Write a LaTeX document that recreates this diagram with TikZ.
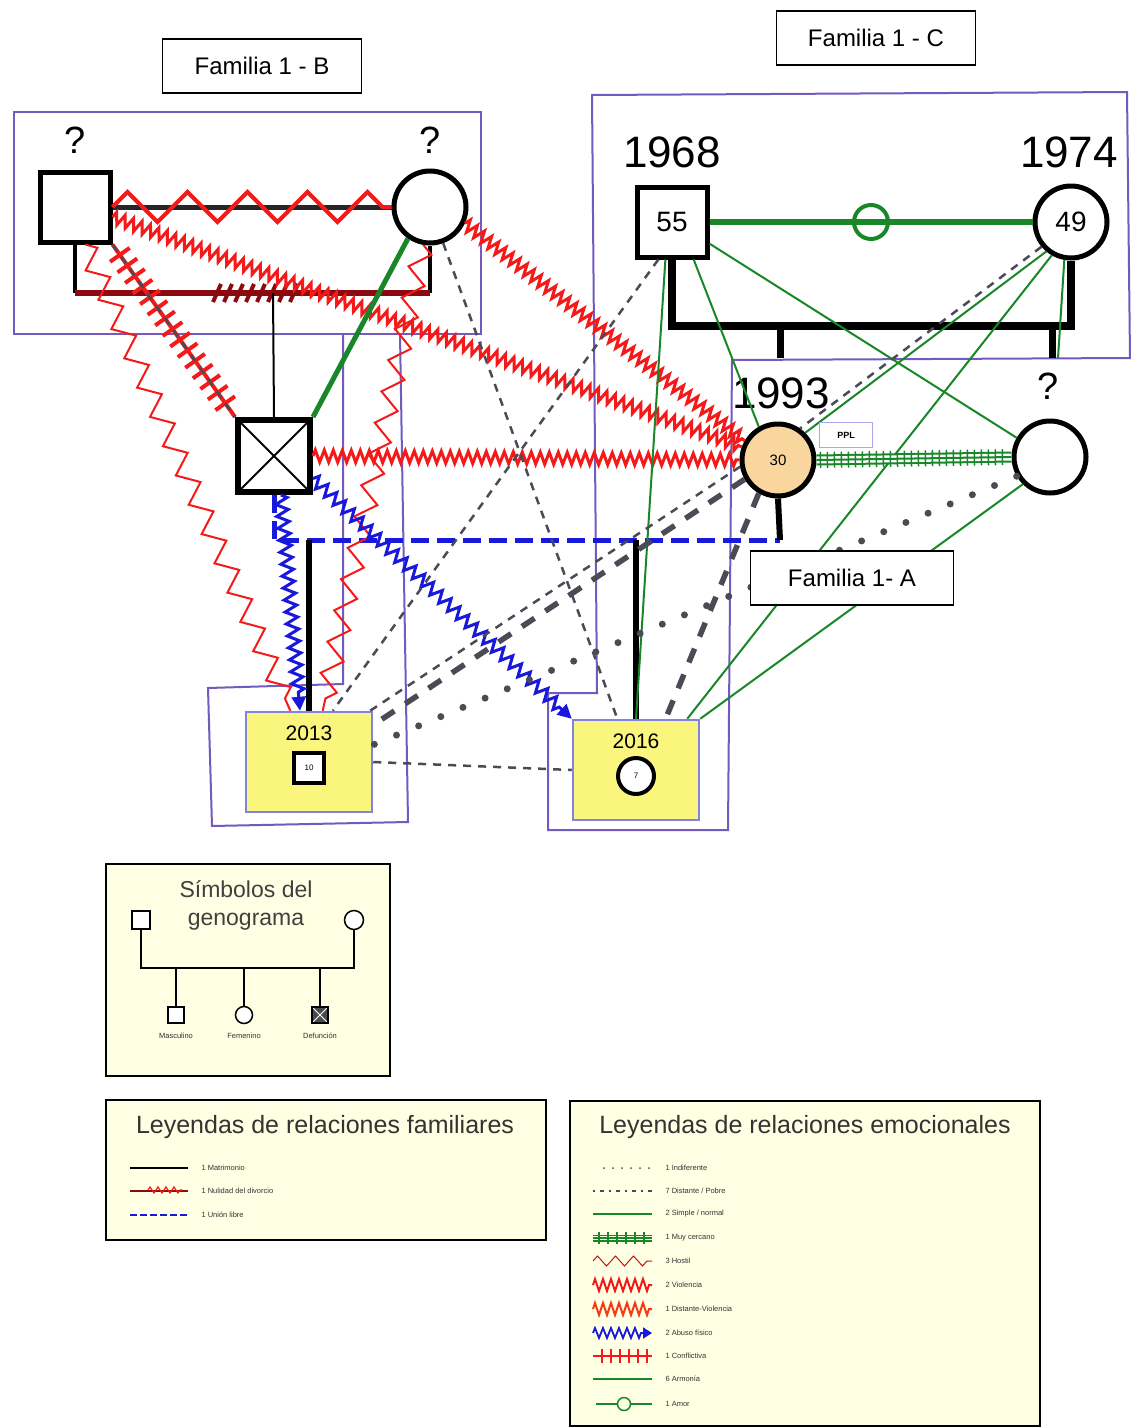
\documentclass[tikz,border=0pt]{standalone}
\usepackage{fontspec}
\setmainfont{Liberation Sans}
\usetikzlibrary{decorations.pathmorphing,decorations.markings,arrows.meta}
\definecolor{rojo}{RGB}{245,25,25}
\definecolor{vino}{RGB}{140,10,15}
\definecolor{verde}{RGB}{25,135,40}
\definecolor{azul}{RGB}{25,25,220}
\definecolor{gris}{RGB}{75,75,85}
\definecolor{lila}{RGB}{115,90,190}
\definecolor{borde}{RGB}{130,130,225}
\definecolor{amarillo}{RGB}{250,245,125}
\definecolor{crema}{RGB}{255,255,228}
\definecolor{piel}{RGB}{248,214,158}
\newcommand{\tam}[1]{\fontsize{#1}{#1}\selectfont}
\begin{document}
\begin{tikzpicture}[x=1pt,y=-1pt,
  varon/.style={draw,line width=5,minimum size=70,inner sep=0,fill=white,font=\tam{28}},
  mujer/.style={draw,circle,line width=5,minimum size=72,inner sep=0,fill=white,font=\tam{28}},
  etiqueta/.style={draw,line width=1.5,fill=white,minimum width=199,minimum height=54,font=\tam{24}},
  leyenda/.style={draw,line width=2,fill=crema},
  marco/.style={draw=lila,line width=2},
  hijo/.style={draw=borde,line width=2.5,fill=amarillo,minimum width=126,minimum height=100},
  hostil/.style={draw=rojo,line width=2,decorate,decoration={zigzag,amplitude=10,segment length=32}},
  violencia/.style={draw=rojo,line width=3,decorate,decoration={zigzag,amplitude=6,segment length=9}},
  abuso/.style={draw=azul,line width=3,decorate,decoration={zigzag,amplitude=6,segment length=12,post length=14pt},-{Triangle[length=14pt,width=14pt]}},
  conflicto/.style={draw=rojo,line width=4,postaction={decorate,decoration={markings,mark=between positions 0.06 and 0.94 step 13pt with {\draw[rojo,line width=4] (0,-12)--(0,12);}}}},
  muycerca/.style={draw=verde,line width=2,preaction={draw=verde,line width=11},preaction={draw=white,line width=7},postaction={decorate,decoration={markings,mark=between positions 0.02 and 0.98 step 7pt with {\draw[verde,line width=1.5] (0,-8)--(0,8);}}}},
  nulidad/.style={draw=vino,line width=6,postaction={decorate,decoration={markings,mark=between positions 0.4 and 0.62 step 11pt with {\draw[vino,line width=4] (-4,9)--(4,-9);}}}},
  distante/.style={draw=gris,line width=2.5,dash pattern=on 8pt off 7pt},
  pobre/.style={draw=gris,line width=5.5,dash pattern=on 15pt off 13pt},
  indiferente/.style={draw=gris,line width=7,line cap=round,dash pattern=on 0pt off 24pt},
  simple/.style={draw=verde,line width=2},
  union/.style={draw=azul,line width=5,dash pattern=on 18pt off 8pt},
  chico/.style={font=\tam{7.5},text=black!80,anchor=west}]
\useasboundingbox (0,0) rectangle (1131,1427);
\fill[white] (0,0) rectangle (1131,1427);
\draw[marco] (14,112) rectangle (481,334);
\draw[marco] (343,334) -- (343,684) -- (208,688) -- (212,826) -- (408,822) -- (400,334);
\draw[marco] (592,95) -- (1127,92) -- (1130,358) -- (732,360) -- (728,830) -- (548,830) -- (548,693) -- (597,693) -- cycle;

\node[varon] (mB) at (75,207) {};
\node[mujer] (wB) at (430,207) {};
\node[font=\tam{38}] (qmB) at (75,140) {?};
\node[font=\tam{38}] (qwB) at (430,140) {?};
\node[varon,line width=6,minimum size=72,path picture={\draw[line width=2] (path picture bounding box.north west)--(path picture bounding box.south east) (path picture bounding box.north east)--(path picture bounding box.south west);}] (dec) at (274,456) {};
\node[varon] (mC) at (672,222) {55};
\node[mujer] (wC) at (1071,222) {49};
\node[font=\tam{44}] (yC1) at (672,152) {1968};
\node[font=\tam{44}] (yC2) at (1069,152) {1974};
\node[mujer,fill=piel,font=\tam{15}] (p30) at (778,460) {30};
\node[font=\tam{44}] (y30) at (781,393) {1993};
\node[mujer] (wR) at (1050,457) {};
\node[font=\tam{38}] (qwR) at (1048,386) {?};
\node[hijo] (c2013) at (309,762) {};
\node[font=\tam{21}] (y2013) at (309,733) {2013};
\node[varon,minimum size=30,line width=4,font=\tam{8}] (n10) at (309,768) {10};
\node[hijo] (c2016) at (636,770) {};
\node[font=\tam{21}] (y2016) at (636,741) {2016};
\node[mujer,minimum size=36,line width=4,font=\tam{8}] (n7) at (636,776) {7};

\coordinate (bB1) at (75,293); \coordinate (bB2) at (430,293); \coordinate (hB) at (273,293);
\coordinate (bC1) at (672,326); \coordinate (bC2) at (1071,326);
\coordinate (hC1) at (780,326); \coordinate (hC1b) at (780,358);
\coordinate (hC2) at (1052,326); \coordinate (hC2b) at (1052,358);
\coordinate (uA1) at (274,540); \coordinate (uA2) at (780,540);
\coordinate (hA1) at (309,540); \coordinate (hA2) at (636,540);
\coordinate (wCd) at (1058,358);

\draw[line width=5,black!85] (mB.east) -- (wB.west);
\draw[draw=rojo,line width=4,decorate,decoration={zigzag,amplitude=15,segment length=60}] (mB.east) -- (wB.west);
\draw[line width=4] (mB.south) -- (bB1) (bB2) -- (wB.south);
\draw[nulidad] (bB1) -- (bB2);
\draw[line width=2] (hB) -- (dec.north);
\draw[line width=8] (mC.south) -- (bC1) -- (bC2) -- (wC.south);
\draw[line width=7] (hC1) -- (hC1b) (hC2) -- (hC2b);
\draw[union] (dec.south) -- (uA1) -- (uA2);
\draw[line width=6] (uA2) -- (p30.south);
\draw[line width=6] (hA1) -- (c2013.north);
\draw[line width=6] (hA2) -- (c2016.north);

\draw[conflicto] (mB.south east) -- (dec.north west);
\draw[distante] (mB.south east) -- (dec.north west);
\draw[violencia] (mB.-15) -- (p30.160);
\draw[violencia] (wB.-25) -- (p30.150);
\draw[violencia] (dec.east) -- (p30.west);
\draw[hostil] (mB.-75) -- (c2013.110);
\draw[hostil] (wB.-100) -- (c2013.75);
\draw[simple,line width=5] (wB.-125) -- (dec.north east);
\draw[distante] (wB.-70) -- (c2016.110);
\draw[abuso] (dec.-80) -- (c2013.100);
\draw[abuso] (dec.-30) -- (c2016.north west);
\draw[distante] (mC.-110) -- (c2013.65);
\draw[simple] (mC.-100) -- (c2016.north);
\draw[simple] (mC.-30) -- (wR.150);
\draw[simple] (mC.-60) -- (p30.120);
\draw[distante] (wC.-140) -- (p30.55);
\draw[simple] (wC.-130) -- (p30.45);
\draw[simple] (wC.-120) -- (c2016.45);
\draw[simple] (wC.-100) -- (wCd);
\draw[line width=6,verde] (mC.east) -- (wC.west) node[midway,draw=verde,circle,line width=4,minimum size=34] (amor) {};
\draw[muycerca] (p30.east) -- (wR.west);
\draw[pobre] (p30.-150) -- (c2013.30);
\draw[distante] (p30.-170) -- (c2013.40);
\draw[pobre] (p30.-120) -- (c2016.60);
\draw[indiferente] (wR.-150) -- (c2013.15);
\draw[simple] (wR.-135) -- (c2016.north east);
\draw[distante] (c2013.east) -- (c2016.west);

\node[draw=borde!70,line width=1,fill=white,minimum width=53,minimum height=25,font=\tam{9}\bfseries] (ppl) at (846,435) {PPL};
\node[etiqueta] (fB) at (262,66) {Familia 1 - B};
\node[etiqueta] (fC) at (876,38) {Familia 1 - C};
\node[etiqueta,minimum width=203] (fA) at (852,578) {Familia 1- A};

\node[leyenda,minimum width=284,minimum height=212] (lsim) at (248,970) {};
\node[align=center,font=\fontsize{23}{28}\selectfont,text=black!75] (tsim) at (246,905) {Símbolos del\\genograma};
\node[draw,fill=white,line width=1.5,minimum size=18,inner sep=0] (sM) at (141,920) {};
\node[draw,circle,fill=white,line width=1.5,minimum size=19,inner sep=0] (sF) at (354,920) {};
\coordinate (sL) at (141,968); \coordinate (sR) at (354,968);
\draw[line width=1.5] (sM.south) -- (sL) -- (sR) -- (sF.south);
\node[draw,fill=white,line width=1.5,minimum size=16,inner sep=0] (sH) at (176,1015) {};
\node[draw,circle,fill=white,line width=1.5,minimum size=17,inner sep=0] (sMu) at (244,1015) {};
\node[draw,fill=black!70,line width=1.5,minimum size=16,inner sep=0,path picture={\draw[white,line width=1] (path picture bounding box.north west)--(path picture bounding box.south east) (path picture bounding box.north east)--(path picture bounding box.south west);}] (sD) at (320,1015) {};
\foreach \n/\x in {sH/176,sMu/244,sD/320}
  \draw[line width=1.5] (\x,968) -- (\n.north);
\node[font=\tam{7.5},text=black!80] (tH) at (176,1036) {Masculino};
\node[font=\tam{7.5},text=black!80] (tMu) at (244,1036) {Femenino};
\node[font=\tam{7.5},text=black!80] (tD) at (320,1036) {Defunción};

\node[leyenda,minimum width=440,minimum height=140] (lfam) at (326,1170) {};
\node[font=\tam{25},text=black!80] (tfam) at (325,1127) {Leyendas de relaciones familiares};
\draw[line width=1.5] (130,1168) -- (188,1168);
\draw[vino,line width=1.5] (130,1191) -- (188,1191);
\draw[rojo,line width=1.2,decorate,decoration={zigzag,amplitude=3,segment length=8}] (148,1190) -- (182,1190);
\draw[azul,line width=2,dash pattern=on 7pt off 3pt] (130,1215) -- (188,1215);
\foreach \y/\t in {1168/{1 Matrimonio},1191/{1 Nulidad del divorcio},1215/{1 Unión libre}}
  \node[chico] at (198,\y) {\t};

\node[leyenda,minimum width=470,minimum height=325] (lemo) at (805,1263) {};
\node[font=\tam{25},text=black!80] (temo) at (805,1127) {Leyendas de relaciones emocionales};
\draw[gris,line width=2,line cap=round,dash pattern=on 0pt off 9pt] (604,1168) -- (652,1168);
\draw[gris,line width=1.5,dash pattern=on 2pt off 5pt on 4pt off 5pt] (593,1191) -- (652,1191);
\draw[verde,line width=1.5] (593,1214) -- (652,1214);
\draw[verde,line width=1.5,preaction={draw=verde,line width=7},preaction={draw=crema,line width=4},postaction={decorate,decoration={markings,mark=between positions 0.1 and 0.95 step 9pt with {\draw[verde,line width=1.5] (0,-6)--(0,6);}}}] (593,1238) -- (652,1238);
\draw[rojo!80!black,line width=1,decorate,decoration={zigzag,amplitude=5,segment length=18}] (593,1261) -- (652,1261);
\draw[rojo,line width=2,decorate,decoration={zigzag,amplitude=6,segment length=8}] (593,1285) -- (652,1285);
\draw[rojo!70!orange,line width=2,decorate,decoration={zigzag,amplitude=6,segment length=8}] (593,1309) -- (652,1309);
\draw[azul,line width=1.8,decorate,decoration={zigzag,amplitude=5,segment length=8,post length=8pt},-{Triangle[length=9pt,width=11pt]}] (593,1333) -- (652,1333);
\draw[rojo,line width=1.5,postaction={decorate,decoration={markings,mark=between positions 0.15 and 0.95 step 9pt with {\draw[rojo,line width=1.5] (0,-7)--(0,7);}}}] (593,1356) -- (652,1356);
\draw[verde,line width=1.5] (593,1379) -- (652,1379);
\draw[verde,line width=1.5] (596,1404) -- (652,1404) node[midway,draw=verde,circle,fill=crema,line width=1.5,minimum size=13,inner sep=0] (lamor) {};
\foreach \y/\t in {1168/{1 Indiferente},1191/{7 Distante / Pobre},1214/{2 Simple / normal},1238/{1 Muy cercano},1261/{3 Hostil},1285/{2 Violencia},1309/{1 Distante-Violencia},1333/{2 Abuso físico},1356/{1 Conflictiva},1379/{6 Armonía},1404/{1 Amor}}
  \node[chico] at (662,\y) {\t};
\end{tikzpicture}
\end{document}
